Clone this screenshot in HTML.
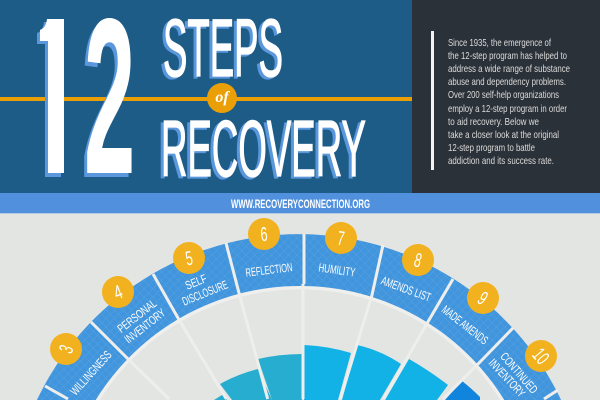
<!DOCTYPE html>
<html><head><meta charset="utf-8"><style>
html,body{margin:0;padding:0;background:#e3e5e3;width:600px;height:400px;overflow:hidden}
svg{display:block}
text{font-family:"Liberation Sans",sans-serif}
</style></head><body>
<svg width="600" height="400" viewBox="0 0 600 400" xmlns="http://www.w3.org/2000/svg">
<defs>
<pattern id="h" width="6" height="6" patternUnits="userSpaceOnUse" patternTransform="rotate(45)">
<rect width="6" height="6" fill="#4195dd"/>
<path d="M0 0H6M0 0V6" stroke="#fff" stroke-opacity=".1" stroke-width="1"/>
</pattern>
<clipPath id="c1"><path d="M47 19H64V173H48V41H40V30Q46 28 47 19Z"/></clipPath>
</defs>
<rect width="600" height="400" fill="#e3e5e3"/>
<rect width="412" height="193" fill="#1e5c88"/>
<rect x="412" width="188" height="193" fill="#2b3138"/>
<rect y="193" width="600" height="20" fill="#5190dc"/>
<rect y="213" width="600" height="1" fill="#b9cbe0"/>
<rect y="97" width="412" height="4" fill="#eb9f06"/>

<!-- 12 -->
<path d="M44 22H61V177H45V44H37V33Q43 31 44 22Z" fill="#5a97dc"/>
<path d="M47 19H64V173H48V41H40V30Q46 28 47 19Z" fill="#fff"/>
<g clip-path="url(#c1)"><text transform="translate(4 173) scale(.8 1)" font-size="220" font-weight="700" fill="#fff">1</text></g>
<text transform="translate(81 177) scale(.415 1)" font-size="222" font-weight="700" fill="#5a97dc">2</text>
<text transform="translate(84 173) scale(.415 1)" font-size="222" font-weight="700" fill="#fff">2</text>

<!-- STEPS -->
<text x="160" y="78" font-size="82" stroke="#5a97dc" stroke-width="1.300" textLength="120" lengthAdjust="spacingAndGlyphs" fill="#5a97dc">STEPS</text>
<text x="163" y="76" font-size="82" stroke="#fff" stroke-width="1.300" textLength="120" lengthAdjust="spacingAndGlyphs" fill="#fff">STEPS</text>
<!-- RECOVERY -->
<text x="158" y="178" font-size="80" stroke="#5a97dc" stroke-width="1.300" textLength="205" lengthAdjust="spacingAndGlyphs" fill="#5a97dc">RECOVERY</text>
<text x="161" y="176" font-size="80" stroke="#fff" stroke-width="1.300" textLength="205" lengthAdjust="spacingAndGlyphs" fill="#fff">RECOVERY</text>

<circle cx="222" cy="98" r="15" fill="#eb9f06"/>
<text x="222" y="102" font-size="16" font-weight="700" font-style="italic" text-anchor="middle" fill="#fff" style="font-family:'Liberation Serif',serif">of</text>

<!-- paragraph -->
<rect x="431" y="31" width="3" height="139" fill="#f2f2f2"/>
<g font-size="10.5" fill="#dcdcdc">
<text x="448" y="46" textLength="103" lengthAdjust="spacingAndGlyphs">Since 1935, the emergence of</text>
<text x="448" y="59" textLength="119" lengthAdjust="spacingAndGlyphs">the 12-step program has helped to</text>
<text x="448" y="72" textLength="122" lengthAdjust="spacingAndGlyphs">address a wide range of substance</text>
<text x="448" y="85" textLength="118" lengthAdjust="spacingAndGlyphs">abuse and dependency problems.</text>
<text x="448" y="98" textLength="111" lengthAdjust="spacingAndGlyphs">Over 200 self-help organizations</text>
<text x="448" y="112" textLength="119" lengthAdjust="spacingAndGlyphs">employ a 12-step program in order</text>
<text x="448" y="125" textLength="91" lengthAdjust="spacingAndGlyphs">to aid recovery. Below we</text>
<text x="448" y="138" textLength="111" lengthAdjust="spacingAndGlyphs">take a closer look at the original</text>
<text x="448" y="151" textLength="87" lengthAdjust="spacingAndGlyphs">12-step program to battle</text>
<text x="448" y="164" textLength="106" lengthAdjust="spacingAndGlyphs">addiction and its success rate.</text>
</g>

<text x="231" y="208" font-size="12" font-weight="700" textLength="139" lengthAdjust="spacingAndGlyphs" fill="#fff">WWW.RECOVERYCONNECTION.ORG</text>

<!-- band -->
<path d="M36.900 400A290 290 0 0 1 561.100 400Z" fill="url(#h)"/>
<path d="M95.700 400A240 240 0 0 1 504.300 400Z" fill="#efefed"/>
<path d="M99.800 400A236.500 236.500 0 0 1 500.200 400Z" fill="#e3e5e3"/>

<!-- wedges -->
<path d="M214 400L222 395L227 400Z" fill="#27add0"/>
<path d="M220 384Q238 374 258 369L272 400H232Z" fill="#27add0"/>
<path d="M258 359Q280 354 302 354V400H272Z" fill="#27add0"/>
<path d="M304 345Q328 346 351 353L338 400H304Z" fill="#12b2e6"/>
<path d="M357 345Q380 350 401 364L380 400H342Z" fill="#12b2e6"/>
<path d="M409 359Q430 371 448 385L437 400H385Z" fill="#12b2e6"/>
<path d="M462 381Q471 388 480 397V400H445Z" fill="#1185dd"/>

<!-- dividers -->
<g stroke="#eeeeec" stroke-width="3" fill="none">
<path d="M304 234V284M303 284V399"/>
<path d="M226 243L239 293L267.700 399"/>
<path d="M153 274L178 318L226.400 399"/>
<path d="M91 322L128 359L169 399"/>
<path d="M45 386L68 399"/>
<path d="M383 245L372 295L340.300 399"/>
<path d="M453 279L429 320L383.600 399"/>
<path d="M513 328L480 362L443 399"/>
<path d="M558 390L544 399"/>
</g>

<!-- circles -->
<g fill="#f2b21f">
<circle cx="66" cy="349" r="16"/><circle cx="118" cy="292" r="16"/><circle cx="189" cy="258" r="16"/><circle cx="264" cy="234" r="16"/>
<circle cx="341" cy="238" r="16"/><circle cx="418" cy="260" r="16"/><circle cx="483" cy="298" r="16"/><circle cx="541" cy="356" r="16"/>
</g>
<g fill="#fff" font-size="20" text-anchor="middle">
<text transform="translate(66 349) rotate(-70) scale(.62 1)" y="7">3</text>
<text transform="translate(118 292) rotate(-20) scale(.7 1)" y="7">4</text>
<text transform="translate(189 258) rotate(-10) scale(.62 1)" y="7">5</text>
<text transform="translate(264 234) rotate(-5) scale(.62 1)" y="7">6</text>
<text transform="translate(341 238) rotate(8) scale(.62 1)" y="7">7</text>
<text transform="translate(418 260) rotate(15) scale(.62 1)" y="7">8</text>
<text transform="translate(483 298) rotate(35) scale(.62 1)" y="7">9</text>
<text transform="translate(541 356) rotate(50) scale(.62 1)" y="7">10</text>
</g>

<!-- labels -->
<g fill="#fff" font-size="12">
<text transform="translate(91 373) rotate(-48)" x="-27.500" y="4" textLength="55" lengthAdjust="spacingAndGlyphs">WILLINGNESS</text>
<text transform="translate(137 316) rotate(-38)" x="-23" y="4" textLength="46" lengthAdjust="spacingAndGlyphs">PERSONAL</text>
<text transform="translate(145 326) rotate(-38)" x="-24" y="4" textLength="48" lengthAdjust="spacingAndGlyphs">INVENTORY</text>
<text transform="translate(196 282) rotate(-22)" x="-11" y="4" textLength="22" lengthAdjust="spacingAndGlyphs">SELF</text>
<text transform="translate(205 293) rotate(-22)" x="-24" y="4" textLength="48" lengthAdjust="spacingAndGlyphs">DISCLOSURE</text>
<text transform="translate(269 270) rotate(-7)" x="-23.500" y="4" textLength="47" lengthAdjust="spacingAndGlyphs">REFLECTION</text>
<text transform="translate(337 270) rotate(8)" x="-18.500" y="4" textLength="37" lengthAdjust="spacingAndGlyphs">HUMILITY</text>
<text transform="translate(406 289) rotate(20)" x="-26" y="4" textLength="52" lengthAdjust="spacingAndGlyphs">AMENDS LIST</text>
<text transform="translate(465 325) rotate(38)" x="-27.500" y="4" textLength="55" lengthAdjust="spacingAndGlyphs">MADE AMENDS</text>
<text transform="translate(519 373) rotate(49)" x="-25" y="4" textLength="50" lengthAdjust="spacingAndGlyphs">CONTINUED</text>
<text transform="translate(507 378) rotate(47)" x="-23.500" y="4" textLength="47" lengthAdjust="spacingAndGlyphs">INVENTORY</text>
</g>
</svg>
</body></html>
